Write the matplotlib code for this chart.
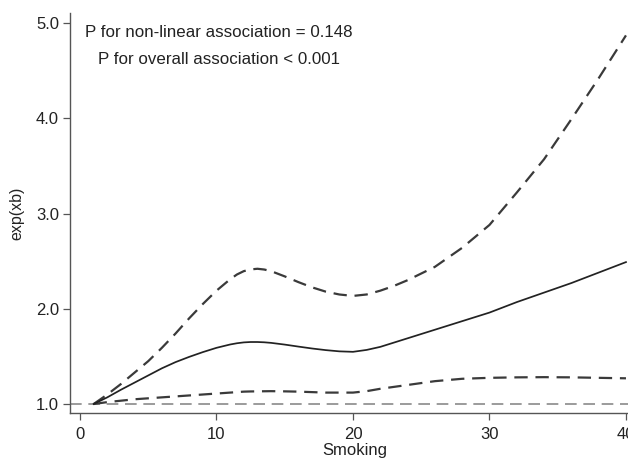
import matplotlib
matplotlib.use("Agg")
import matplotlib.pyplot as plt

plt.rcParams['font.family'] = ['Liberation Sans', 'DejaVu Sans']

# values
smoking = [1, 2, 3, 4, 5, 6, 7, 8, 9, 10, 11, 11.5, 12, 12.5, 13, 13.5, 14, 15, 16, 17, 18, 19,
           20, 21, 22, 23, 24, 26, 28, 30, 32, 34, 36, 38, 40]
est = [1.0, 1.07, 1.15, 1.225, 1.30, 1.375, 1.44, 1.495, 1.545, 1.59, 1.625, 1.638, 1.647, 1.651,
       1.651, 1.648, 1.642, 1.624, 1.603, 1.583, 1.566, 1.553, 1.548, 1.568, 1.60, 1.645, 1.69,
       1.78, 1.87, 1.96, 2.07, 2.17, 2.27, 2.38, 2.49]
upper = [1.0, 1.10, 1.21, 1.33, 1.45, 1.59, 1.74, 1.90, 2.05, 2.19, 2.31, 2.36, 2.395, 2.413,
         2.42, 2.412, 2.395, 2.34, 2.28, 2.225, 2.18, 2.15, 2.135, 2.15, 2.19, 2.24, 2.30,
         2.44, 2.64, 2.88, 3.22, 3.57, 3.99, 4.42, 4.87]
lower = [1.0, 1.02, 1.035, 1.05, 1.06, 1.07, 1.08, 1.09, 1.10, 1.11, 1.12, 1.125, 1.13, 1.132,
         1.133, 1.134, 1.135, 1.133, 1.13, 1.125, 1.12, 1.12, 1.12, 1.135, 1.16, 1.18, 1.20,
         1.24, 1.265, 1.275, 1.28, 1.282, 1.28, 1.275, 1.27]
ref_y = 1.0

x_ticks = [0, 10, 20, 30, 40]
y_ticks = [1.0, 2.0, 3.0, 4.0, 5.0]

fig = plt.figure(figsize=(6.28, 4.58), dpi=100)
# axes runs past the right edge, like the cropped original
ax = fig.add_axes([0.1115, 0.0983, 0.907, 0.8733])

ax.axhline(ref_y, color="#8a8a8a", lw=1.2, dashes=(7, 4))
ax.plot(smoking, upper, color="#3a3a3a", lw=1.6, dashes=(6, 3.5))
ax.plot(smoking, lower, color="#3a3a3a", lw=1.6, dashes=(6, 3.5))
ax.plot(smoking, est, color="#222222", lw=1.25)

ax.set_xlim(-0.73, 41)
ax.set_ylim(0.906, 5.105)
ax.set_xticks(x_ticks)
ax.set_yticks(y_ticks)
ax.set_yticklabels([f"{v:.1f}" for v in y_ticks])

for s in ["top", "right"]:
    ax.spines[s].set_visible(False)
for s in ["left", "bottom"]:
    ax.spines[s].set_color("#555555")
    ax.spines[s].set_linewidth(1.0)

ax.tick_params(axis="both", direction="out", length=5, width=0.9,
               color="#555555", labelsize=12, labelcolor="#222222")
ax.tick_params(axis="x", pad=5)
ax.tick_params(axis="y", pad=3)

ax.set_xlabel("Smoking", fontsize=12, labelpad=1, color="#222222")
ax.set_ylabel("exp(xb)", fontsize=11.5, labelpad=8, color="#222222")

ax.text(10.2, 4.9, "P for non-linear association = 0.148", ha="center", va="center",
        fontsize=12.2, color="#222222")
ax.text(10.2, 4.62, "P for overall association < 0.001", ha="center", va="center",
        fontsize=12.2, color="#222222")

fig.savefig("out.png", dpi=100)
